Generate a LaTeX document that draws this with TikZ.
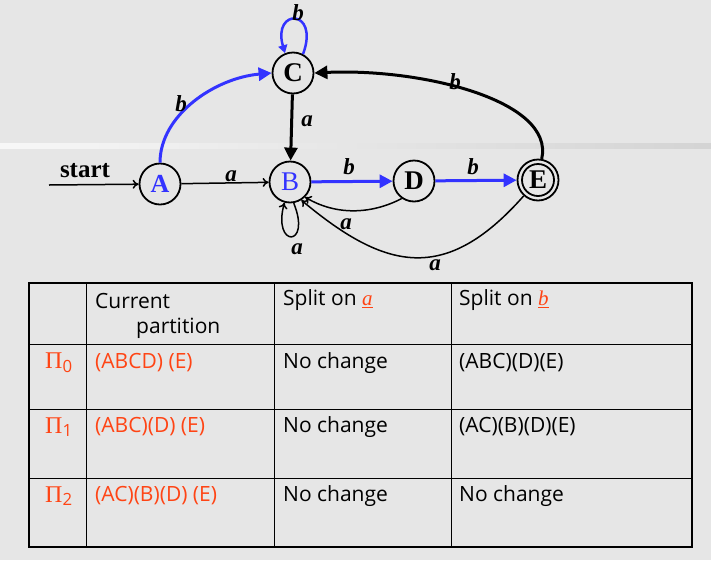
\documentclass[tikz,border=0pt]{standalone}
\usepackage{fontspec}
\setmainfont{Open Sans}
\newfontfamily\tms{Liberation Serif}
\usetikzlibrary{arrows.meta}
\definecolor{bg}{HTML}{E6E6E6}
\definecolor{myblue}{HTML}{3333FF}
\definecolor{myred}{HTML}{FF4414}
\begin{document}
\begin{tikzpicture}[x=1pt,y=-1pt,
  state/.style={circle,draw,line width=1.8pt,minimum size=41pt,inner sep=0pt,
    font=\tms\bfseries\fontsize{27}{27}\selectfont},
  lbl/.style={font=\tms\bfseries\itshape\fontsize{23}{23}\selectfont,inner sep=0pt},
  thinedge/.style={line width=1.5pt,-{To[length=6pt,width=9pt]}},
  thickedge/.style={line width=3pt,-{Triangle[length=13pt,width=13pt]}},
  cell/.style={anchor=west,inner sep=0pt,font=\fontsize{21}{21}\selectfont},
  redcell/.style={cell,text=myred},
  pinode/.style={anchor=west,inner sep=0pt,text=myred,font=\tms\fontsize{24}{24}\selectfont}
]
\useasboundingbox (0,0) rectangle (711,560);
\fill[bg] (0,0) rectangle (711,560);
\shade[left color=white!70!bg,right color=black!8!bg] (0,143) rectangle (711,148);

% states
\node[state,text=myblue,font=\tms\bfseries\fontsize{26}{26}\selectfont] (A) at (160,184) {A};
\node[state,text=myblue,font=\tms\fontsize{27}{27}\selectfont] (B) at (290,182) {B};
\node[state] (C) at (293,73) {C};
\node[state] (D) at (414,181) {D};
\node[state] (E) at (538,180) {E};
\draw[line width=1.8pt] (E) circle (16pt);

\coordinate (S) at (49,185);
\node[inner sep=0pt,font=\tms\bfseries\fontsize{25}{25}\selectfont] (st) at (85,171) {start};

% edges
\draw[thinedge] (S) -- (A);
\draw[thinedge] (A) -- (B);
\draw[thickedge,myblue] (A.north) .. controls (160,115) and (215,78) .. (C.west);
\draw[thickedge] (C) -- (B);
\draw[thickedge,myblue,line width=2.5pt,-{Triangle[length=8pt,width=9pt]}] (C.62) .. controls (320,8) and (272,8) .. (C.112);
\draw[thickedge] (E.80) .. controls (555,100) and (420,68) .. (C.east);
\draw[thickedge,myblue] (B) -- (D);
\draw[thickedge,myblue] (D) -- (E);
\draw[thinedge] (D.235) .. controls (370,215) and (335,215) .. (B.-45);
\draw[thinedge] (E.228) .. controls (445,285) and (385,270) .. (B.-58);
\draw[thinedge] (B.-80) .. controls (312,248) and (272,248) .. (B.-105);

% edge labels
\node[lbl] (lA1) at (181,104) {b};
\node[lbl] (lA2) at (231,176) {a};
\node[lbl] (lC1) at (307,121) {a};
\node[lbl] (lC2) at (298,13) {b};
\node[lbl] (lE1) at (455,82) {b};
\node[lbl] (lB1) at (349,167) {b};
\node[lbl] (lD1) at (473,167) {b};
\node[lbl] (lD2) at (346,224) {a};
\node[lbl] (lE2) at (435,265) {a};
\node[lbl] (lB2) at (297,249) {a};

% table
\draw[line width=1pt] (86,283) -- (86,547) (274,283) -- (274,547) (451,283) -- (451,547);
\draw[line width=1pt] (29,344) -- (692,344) (29,409) -- (692,409) (29,478) -- (692,478);
\draw[line width=2.2pt] (29,283) rectangle (692,547);

\node[cell] (h1) at (95,301) {Current};
\node[cell] (h2) at (136,328) {partition};
\node[cell] (h3) at (283,300) {Split on \textcolor{myred}{\tms\itshape\underline{a}}};
\node[cell] (h4) at (459,300) {Split on \textcolor{myred}{\tms\itshape\underline{b}}};

\node[pinode] (p0) at (45,363) {Π\textsubscript{\rmfamily 0}};
\node[pinode] (p1) at (45,427) {Π\textsubscript{\rmfamily 1}};
\node[pinode] (p2) at (45,496) {Π\textsubscript{\rmfamily 2}};

\node[redcell] (r0) at (95,363) {(ABCD) (E)};
\node[redcell] (r1) at (95,427) {(ABC)(D) (E)};
\node[redcell] (r2) at (95,496) {(AC)(B)(D) (E)};

\node[cell] (a0) at (283,363) {No change};
\node[cell] (a1) at (283,427) {No change};
\node[cell] (a2) at (283,496) {No change};

\node[cell] (b0) at (459,363) {(ABC)(D)(E)};
\node[cell] (b1) at (459,427) {(AC)(B)(D)(E)};
\node[cell] (b2) at (459,496) {No change};
\end{tikzpicture}
\end{document}
